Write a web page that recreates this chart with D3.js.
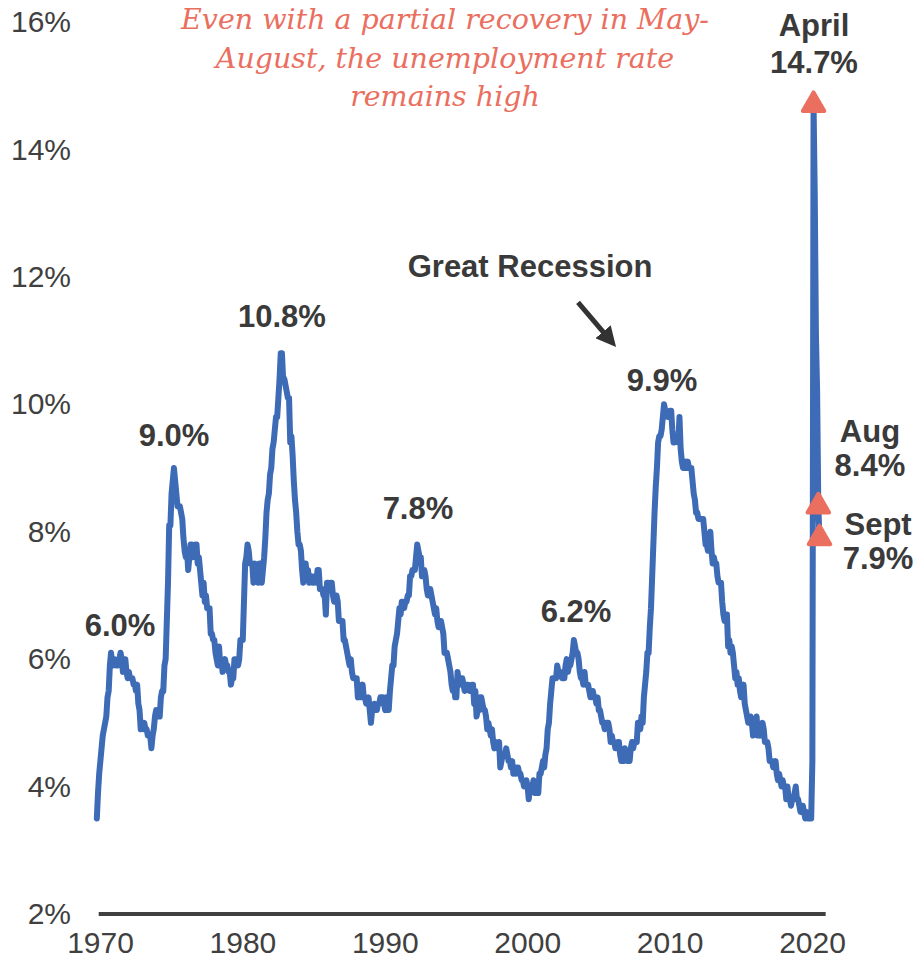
<!DOCTYPE html>
<html>
<head>
<meta charset="utf-8">
<script src="https://cdn.jsdelivr.net/npm/d3@7"></script>
<style>
  body { margin: 0; background: #fff; }
  svg { display: block; }
  text { font-family: "Liberation Sans", Arial, sans-serif; fill: #404040; }
</style>
</head>
<body>
<svg width="916" height="966"></svg>
<script>
// monthly unemployment rate, %, starting Dec 1969
var rate1969 = [3.5];
var rate1970s = [
  3.9,4.2,4.4,4.6,4.8,4.9,5.0,5.1,5.4,5.5,5.9,6.1,
  5.9,5.9,6.0,5.9,5.9,5.9,6.0,6.1,6.0,5.8,6.0,6.0,
  5.8,5.7,5.8,5.7,5.7,5.7,5.6,5.6,5.5,5.6,5.3,5.2,
  4.9,5.0,4.9,5.0,4.9,4.9,4.8,4.8,4.8,4.6,4.8,4.9,
  5.1,5.2,5.1,5.1,5.1,5.4,5.5,5.5,5.9,6.0,6.6,7.2,
  8.1,8.1,8.6,8.8,9.0,8.8,8.6,8.4,8.4,8.4,8.3,8.2,
  7.9,7.7,7.6,7.7,7.4,7.6,7.8,7.8,7.6,7.7,7.8,7.8,
  7.5,7.6,7.4,7.2,7.0,7.2,6.9,7.0,6.8,6.8,6.8,6.4,
  6.4,6.3,6.3,6.1,6.0,5.9,6.2,5.9,6.0,5.8,5.9,6.0,
  5.9,5.9,5.8,5.8,5.6,5.7,5.7,6.0,5.9,6.0,5.9,6.0
];
var rate1980s = [
  6.3,6.3,6.3,6.9,7.5,7.6,7.8,7.7,7.5,7.5,7.5,7.2,
  7.5,7.4,7.4,7.2,7.5,7.5,7.2,7.4,7.6,7.9,8.3,8.5,
  8.6,8.9,9.0,9.3,9.4,9.6,9.8,9.8,10.1,10.4,10.8,10.8,
  10.4,10.4,10.3,10.2,10.1,10.1,9.4,9.5,9.2,8.8,8.5,8.3,
  8.0,7.8,7.8,7.7,7.4,7.2,7.5,7.5,7.3,7.4,7.2,7.3,
  7.3,7.2,7.2,7.3,7.2,7.4,7.4,7.1,7.1,7.1,7.0,7.0,
  6.7,7.2,7.2,7.1,7.2,7.2,7.0,6.9,7.0,7.0,6.9,6.6,
  6.6,6.6,6.6,6.3,6.3,6.2,6.1,6.0,5.9,6.0,5.8,5.7,
  5.7,5.7,5.7,5.4,5.6,5.4,5.4,5.6,5.4,5.4,5.3,5.3,
  5.4,5.2,5.0,5.2,5.2,5.3,5.2,5.2,5.3,5.3,5.4,5.4
];
var rate1990s = [
  5.4,5.3,5.2,5.4,5.4,5.2,5.5,5.7,5.9,5.9,6.2,6.3,
  6.4,6.6,6.8,6.7,6.9,6.9,6.8,6.9,6.9,7.0,7.0,7.3,
  7.3,7.4,7.4,7.4,7.6,7.8,7.7,7.6,7.6,7.3,7.4,7.4,
  7.3,7.1,7.0,7.1,7.1,7.0,6.9,6.8,6.7,6.8,6.6,6.5,
  6.6,6.6,6.5,6.4,6.1,6.1,6.1,6.0,5.9,5.8,5.6,5.5,
  5.6,5.4,5.4,5.8,5.6,5.6,5.7,5.7,5.6,5.5,5.6,5.6,
  5.6,5.5,5.5,5.6,5.6,5.3,5.5,5.1,5.2,5.2,5.4,5.4,
  5.3,5.2,5.2,5.1,4.9,5.0,4.9,4.8,4.9,4.7,4.6,4.7,
  4.6,4.6,4.7,4.3,4.4,4.5,4.5,4.5,4.6,4.5,4.4,4.4,
  4.3,4.4,4.2,4.3,4.2,4.3,4.3,4.2,4.2,4.1,4.1,4.0
];
var rate2000s = [
  4.0,4.1,4.0,3.8,4.0,4.0,4.0,4.1,3.9,3.9,3.9,3.9,
  4.2,4.2,4.3,4.4,4.3,4.5,4.6,4.9,5.0,5.3,5.5,5.7,
  5.7,5.7,5.7,5.9,5.8,5.8,5.8,5.7,5.7,5.7,5.9,6.0,
  5.8,5.9,5.9,6.0,6.1,6.3,6.2,6.1,6.1,6.0,5.8,5.7,
  5.7,5.6,5.8,5.6,5.6,5.6,5.5,5.4,5.4,5.5,5.4,5.4,
  5.3,5.4,5.2,5.2,5.1,5.0,5.0,4.9,5.0,5.0,5.0,4.9,
  4.7,4.8,4.7,4.7,4.6,4.6,4.7,4.7,4.5,4.4,4.5,4.4,
  4.6,4.5,4.4,4.5,4.4,4.6,4.7,4.6,4.7,4.7,4.7,5.0,
  5.0,4.9,5.1,5.0,5.4,5.6,5.8,6.1,6.1,6.5,6.8,7.3,
  7.8,8.3,8.7,9.0,9.4,9.5,9.5,9.6,9.8,10.0,9.9,9.9
];
var rate2010s = [
  9.8,9.8,9.9,9.9,9.6,9.4,9.4,9.5,9.5,9.4,9.8,9.3,
  9.1,9.0,9.0,9.1,9.0,9.1,9.0,9.0,9.0,8.8,8.6,8.5,
  8.3,8.3,8.2,8.2,8.2,8.2,8.2,8.0,7.8,7.8,7.7,7.9,
  8.0,7.7,7.5,7.6,7.5,7.5,7.3,7.2,7.2,7.2,6.9,6.7,
  6.6,6.7,6.7,6.2,6.3,6.1,6.2,6.1,5.9,5.7,5.8,5.6,
  5.7,5.5,5.4,5.4,5.6,5.3,5.2,5.1,5.0,5.0,5.1,5.0,
  4.8,4.9,5.0,5.1,4.8,4.9,4.8,4.9,5.0,4.9,4.7,4.7,
  4.7,4.6,4.4,4.4,4.4,4.3,4.3,4.4,4.2,4.1,4.2,4.1,
  4.0,4.1,4.0,4.0,3.8,4.0,3.8,3.8,3.7,3.8,3.8,3.9,
  4.0,3.8,3.8,3.7,3.6,3.6,3.7,3.6,3.5,3.6,3.5,3.5
];
var rate2020 = [3.5,3.5,4.4,14.7,13.3,11.1,10.2,8.4,7.9];

var yTicks = [2,4,6,8,10,12,14,16];
var xTicks = [1970,1980,1990,2000,2010,2020];

// label anchors in data units (year, rate)
var peakLabels = [
  {text: "6.0%",  year: 1971.55, rate: 6.36},
  {text: "9.0%",  year: 1975.34, rate: 9.35},
  {text: "10.8%", year: 1982.92, rate: 11.21},
  {text: "7.8%",  year: 1992.47, rate: 8.2},
  {text: "6.2%",  year: 2003.57, rate: 6.58},
  {text: "9.9%",  year: 2009.61, rate: 10.21},
  {text: "Great Recession", year: 2000.34, rate: 12.0},
  {text: "April", year: 2020.28, rate: 15.78},
  {text: "14.7%", year: 2020.28, rate: 15.2},
  {text: "Aug",   year: 2024.21, rate: 9.41},
  {text: "8.4%",  year: 2024.21, rate: 8.87},
  {text: "Sept",  year: 2024.78, rate: 7.95},
  {text: "7.9%",  year: 2024.78, rate: 7.41}
];
var markedMonths = [3, 7, 8]; // April, Aug, Sept 2020

var titleLines = ["Even with a partial recovery in May-",
                  "August, the unemployment rate",
                  "remains high"];

var blue = "#3d6bb6", salmon = "#ea6f5f";

var svg = d3.select("svg");

var x = d3.scaleLinear().domain([1970, 2020]).range([98, 810]);
var y = d3.scaleLinear().domain([2, 16]).range([914, 22]);

var series = [].concat(rate1969, rate1970s, rate1980s, rate1990s, rate2000s, rate2010s, rate2020)
  .map(function(v, i) { return {t: 1969 + 11/12 + i/12, v: v}; });
var last2020 = series.slice(series.length - rate2020.length);

// y tick labels
var yAxis = svg.append("g")
  .attr("transform", "translate(71,0)")
  .call(d3.axisLeft(y).tickValues(yTicks).tickSize(0).tickPadding(0)
    .tickFormat(function(d) { return d + "%"; }));
yAxis.select(".domain").remove();
yAxis.selectAll("text").attr("font-size", "30px").attr("font-family", null).attr("fill", "#404040");

// x tick labels
var xAxis = svg.append("g")
  .attr("transform", "translate(2,932)")
  .call(d3.axisBottom(x).tickValues(xTicks).tickSize(0).tickPadding(0)
    .tickFormat(d3.format("d")));
xAxis.select(".domain").remove();
xAxis.selectAll("text").attr("font-size", "30px").attr("font-family", null).attr("fill", "#404040");

// baseline at 2%
svg.append("line")
  .attr("x1", x(1970.05)).attr("x2", x(2021.1))
  .attr("y1", y(2)).attr("y2", y(2))
  .attr("stroke", "#404040").attr("stroke-width", 4);

// unemployment line
svg.append("path")
  .datum(series)
  .attr("fill", "none")
  .attr("stroke", blue)
  .attr("stroke-width", 6)
  .attr("stroke-linejoin", "round")
  .attr("stroke-linecap", "round")
  .attr("d", d3.line().x(function(d) { return x(d.t); }).y(function(d) { return y(d.v); }));

// triangle markers
svg.selectAll(".mark")
  .data(markedMonths.map(function(m) { return last2020[m]; }))
  .enter().append("path")
  .attr("class", "mark")
  .attr("d", d3.symbol().type(d3.symbolTriangle).size(200))
  .attr("transform", function(d) { return "translate(" + x(d.t) + "," + y(d.v) + ")"; })
  .attr("fill", salmon)
  .attr("stroke", salmon)
  .attr("stroke-width", 4)
  .attr("stroke-linejoin", "round");

// value labels
svg.selectAll(".lbl")
  .data(peakLabels)
  .enter().append("text")
  .attr("class", "lbl")
  .attr("x", function(d) { return x(d.year); })
  .attr("y", function(d) { return y(d.rate); })
  .attr("text-anchor", "middle")
  .attr("font-size", "31px")
  .attr("font-weight", "bold")
  .style("fill", "#3a3a3a")
  .text(function(d) { return d.text; });

// arrow to the Great Recession
svg.append("defs").append("marker")
  .attr("id", "head")
  .attr("viewBox", "0 -10 20 20")
  .attr("refX", 6).attr("refY", 0)
  .attr("markerUnits", "userSpaceOnUse")
  .attr("markerWidth", 20).attr("markerHeight", 20)
  .attr("orient", "auto")
  .append("path").attr("d", "M0,-10L20,0L0,10Z").attr("fill", "#333");

var a0 = [x(2003.71), y(11.6)], a1 = [x(2006.38), y(10.9)];
var dx = a1[0] - a0[0], dy = a1[1] - a0[1], len = Math.sqrt(dx * dx + dy * dy);
svg.append("line")
  .attr("x1", a0[0]).attr("y1", a0[1])
  .attr("x2", a1[0] - 14 * dx / len).attr("y2", a1[1] - 14 * dy / len)
  .attr("stroke", "#333").attr("stroke-width", 5)
  .attr("marker-end", "url(#head)");

// title
svg.append("g").selectAll("text")
  .data(titleLines)
  .enter().append("text")
  .attr("x", 445)
  .attr("y", function(d, i) { return 29 + i * 38.5; })
  .attr("text-anchor", "middle")
  .attr("font-style", "italic")
  .attr("font-size", "28.5px")
  .style("font-family", "'DejaVu Serif', serif")
  .style("fill", salmon)
  .text(function(d) { return d; });
</script>
</body>
</html>
